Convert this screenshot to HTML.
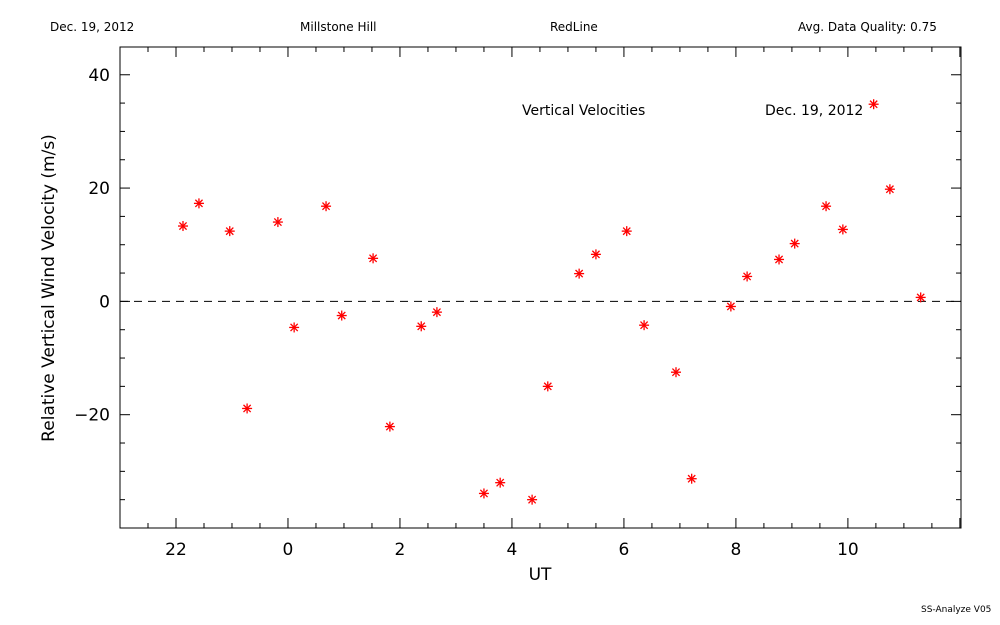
<!DOCTYPE html>
<html><head><meta charset="utf-8"><style>
body{margin:0;background:#fff;}
svg{display:block;font-family:"DejaVu Sans","Liberation Sans",sans-serif;}
</style></head><body>
<svg id="chart" width="1000" height="625" viewBox="0 0 1000 625">
<rect width="1000" height="625" fill="#fff"/>
<g font-size="12" fill="#000">
<text x="50" y="31">Dec. 19, 2012</text>
<text x="300" y="31">Millstone Hill</text>
<text x="550" y="31">RedLine</text>
<text x="798" y="31">Avg. Data Quality: 0.75</text>
<text x="522" y="115" font-size="14">Vertical Velocities</text>
<text x="765" y="115" font-size="14">Dec. 19, 2012</text>
<text x="921" y="612" font-size="9">SS-Analyze V05</text>
</g>
<rect x="120" y="47" width="841" height="481" fill="none" stroke="#000" stroke-width="1"/>
<g id="ticks" stroke="#000" stroke-width="1"></g>
<g id="labels" font-size="17" fill="#000"></g>
<line id="zero" stroke="#000" stroke-dasharray="8,6" stroke-width="1"/>
<g id="pts" stroke="#f00" stroke-width="1.3"></g>
<text x="540" y="580" font-size="17" text-anchor="middle">UT</text>
<text transform="translate(54,288) rotate(-90)" font-size="17" text-anchor="middle">Relative Vertical Wind Velocity (m/s)</text>
</svg>
<script>
const hours=[-1.875,-1.59,-1.04,-0.73,-0.18,0.11,0.68,0.96,1.52,1.82,2.38,2.66,3.5,3.79,4.36,4.64,5.2,5.5,6.05,6.36,6.93,7.21,7.91,8.2,8.77,9.05,9.61,9.91,10.46,10.75,11.3];
const velocities=[13.3,17.3,12.4,-18.9,14.0,-4.6,16.8,-2.5,7.6,-22.1,-4.4,-1.9,-33.9,-32.0,-35.0,-15.0,4.9,8.3,12.4,-4.2,-12.5,-31.3,-0.9,4.4,7.4,10.2,16.8,12.7,34.8,19.8,0.7];
const xTickVals=[-2,0,2,4,6,8,10];
const xTickLabels=["22","0","2","4","6","8","10"];
const yTickVals=[-20,0,20,40];
const yTickLabels=["\u221220","0","20","40"];
const X0=120,X1=961,Y0=528,Y1=47,xmin=-3,xmax=12.02,ymin=-40,ymax=44.9;
const sx=v=>X0+(v-xmin)/(xmax-xmin)*(X1-X0);
const sy=v=>Y0-(v-ymin)/(ymax-ymin)*(Y0-Y1);
const NS='http://www.w3.org/2000/svg';
function mk(t,a,p){const e=document.createElementNS(NS,t);for(const k in a)e.setAttribute(k,a[k]);p.appendChild(e);return e;}
const tk=document.getElementById('ticks'),lb=document.getElementById('labels');
for(let h=-2.5;h<=12;h+=0.5){const x=sx(h);const major=Math.abs(h%2)<1e-6;const L=major?10:5;
 const a=mk('line',{x1:x,x2:x,y1:Y0,y2:Y0-L},tk);
 const b=mk('line',{x1:x,x2:x,y1:Y1,y2:Y1+L},tk);}
for(let v=-35;v<=40;v+=5){const y=sy(v);const major=v%20===0;const L=major?10:5;
 const a=mk('line',{x1:X0,x2:X0+L,y1:y,y2:y},tk);
 const b=mk('line',{x1:X1,x2:X1-L,y1:y,y2:y},tk);}
xTickVals.forEach((v,i)=>{const t=mk('text',{x:sx(v),y:555,'text-anchor':'middle'},lb);t.textContent=xTickLabels[i];
 });
yTickVals.forEach((v,i)=>{const t=mk('text',{x:110,y:sy(v)+6,'text-anchor':'end'},lb);t.textContent=yTickLabels[i];
 });
const z=document.getElementById('zero');z.setAttribute('x1',X0);z.setAttribute('x2',X1);z.setAttribute('y1',sy(0));z.setAttribute('y2',sy(0));
const pg=document.getElementById('pts');
hours.forEach((h,i)=>{const x=sx(h),y=sy(velocities[i]);const g=mk('g',{},pg);
 
 const r=5,d=3.6;
 mk('line',{x1:x-r,x2:x+r,y1:y,y2:y},g);mk('line',{x1:x,x2:x,y1:y-r,y2:y+r},g);
 mk('line',{x1:x-d,x2:x+d,y1:y-d,y2:y+d},g);mk('line',{x1:x-d,x2:x+d,y1:y+d,y2:y-d},g);});
</script>
</body></html>
